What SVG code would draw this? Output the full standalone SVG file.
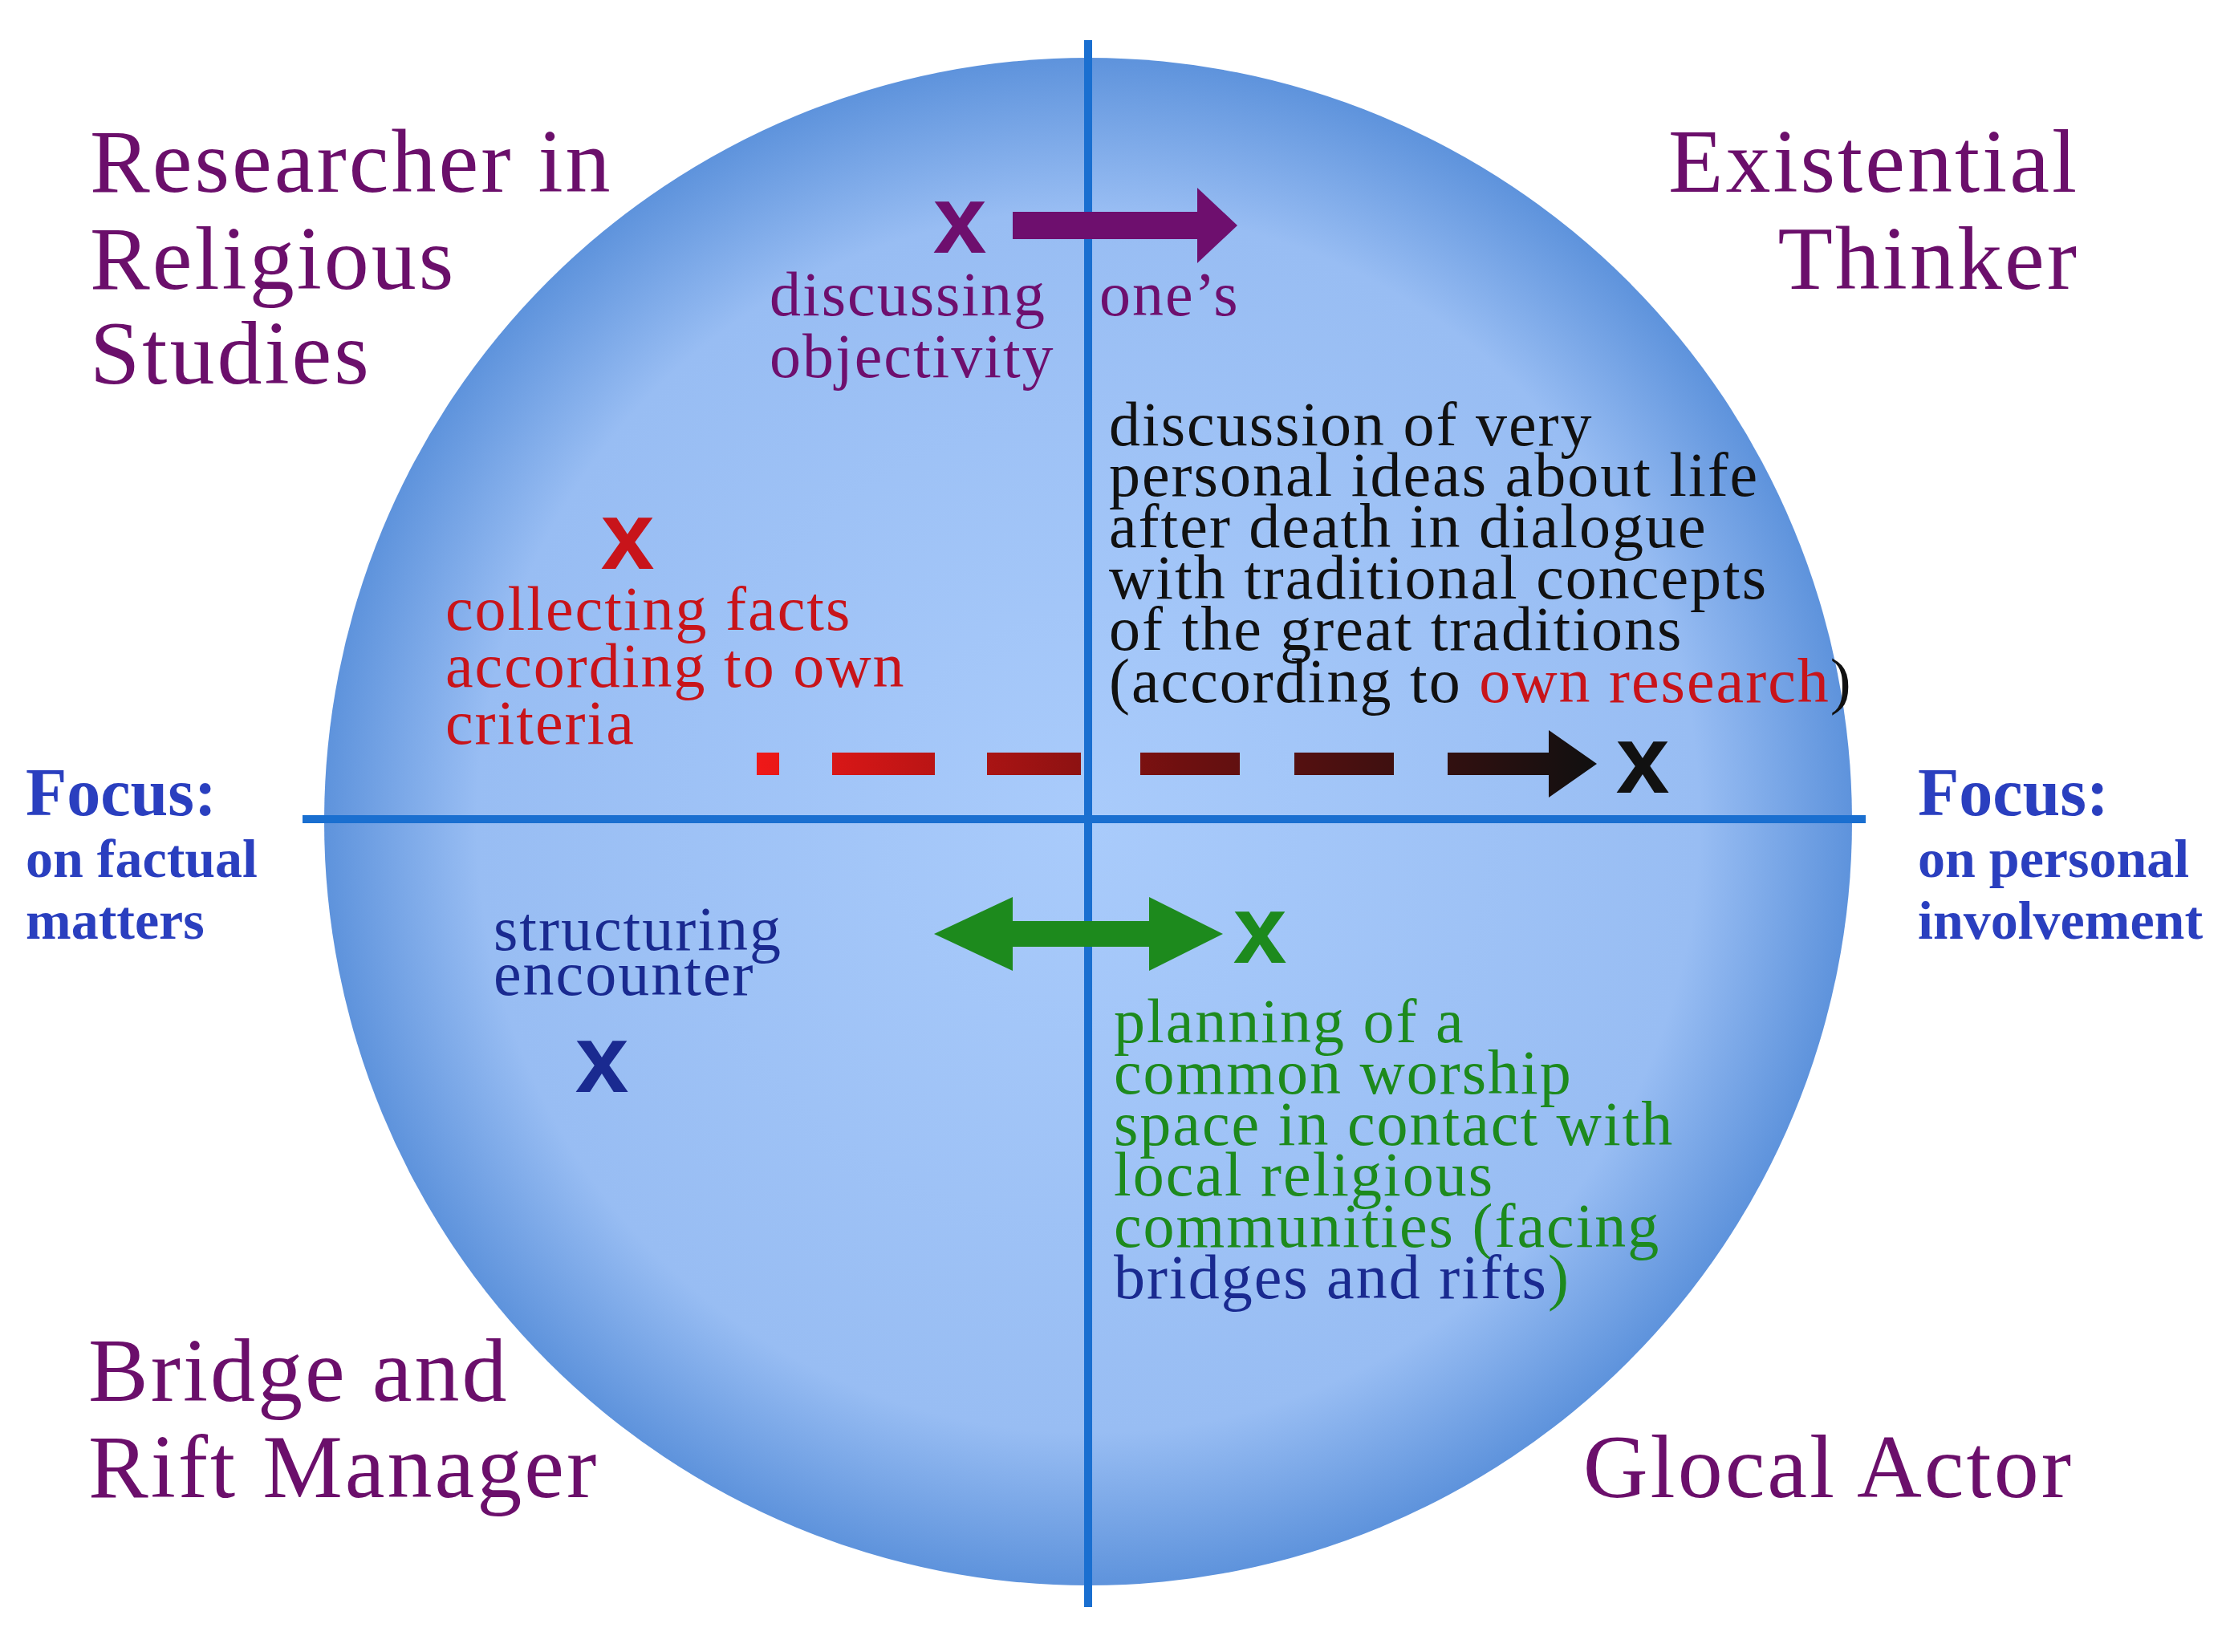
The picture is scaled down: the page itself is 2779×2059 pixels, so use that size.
<svg xmlns="http://www.w3.org/2000/svg" width="2779" height="2059" viewBox="0 0 2779 2059">
<style>
.t{font-family:"Liberation Serif",serif}
.role{font-size:112px;fill:#6b0f6b;letter-spacing:3px}
.foc{font-family:"Liberation Serif",serif;font-weight:bold;fill:#2a3fbf}
.x{font-family:"Liberation Sans",sans-serif;font-weight:bold;font-size:120px;text-anchor:middle}
.lbl{font-size:78px;letter-spacing:2px}
.ax{stroke:#1a6fd0;stroke-width:10}
</style>
<defs>
<radialGradient id="g" cx="0.5" cy="0.5" r="0.5">
<stop offset="0" stop-color="#a9cbfb"/><stop offset="0.8" stop-color="#98bdf3"/><stop offset="1" stop-color="#5e93dc"/>
</radialGradient>
<linearGradient id="dg" gradientUnits="userSpaceOnUse" x1="943" y1="0" x2="1990" y2="0">
<stop offset="0" stop-color="#f01818"/><stop offset="0.5" stop-color="#701010"/><stop offset="1" stop-color="#101010"/>
</linearGradient>
</defs>
<rect width="2779" height="2059" fill="#fff"/>
<circle cx="1356" cy="1024" r="952" fill="url(#g)"/>
<g id="connectors">
<line class="ax" x1="1356" y1="50" x2="1356" y2="2003"/>
<line class="ax" x1="377" y1="1021" x2="2325" y2="1021"/>
<g id="purple-arrow"><rect x="1262" y="264" width="240" height="34" fill="#6e0f6e"/><polygon points="1492,234 1542,281 1492,328" fill="#6e0f6e"/></g>
<g id="dashed-arrow" fill="url(#dg)">
<rect x="943" y="938" width="28" height="28"/><rect x="1037" y="938" width="128" height="28"/><rect x="1230" y="938" width="117" height="28"/><rect x="1421" y="938" width="124" height="28"/><rect x="1613" y="938" width="124" height="28"/><rect x="1804" y="938" width="140" height="28"/>
<polygon points="1930,910 1990,952 1930,994"/></g>
<g id="green-arrow" fill="#1d8a1d"><rect x="1220" y="1148" width="250" height="32"/><polygon points="1164,1164 1262,1118 1262,1210"/><polygon points="1524,1164 1432,1118 1432,1210"/></g>
</g>
<g id="roles" class="t role">
<text x="112" y="239">Researcher in</text><text x="112" y="360">Religious</text><text x="112" y="478">Studies</text>
<text x="2591" y="239" text-anchor="end">Existential</text><text x="2591" y="360" text-anchor="end">Thinker</text>
<text x="110" y="1746">Bridge and</text><text x="110" y="1866">Rift Manager</text>
<text x="2584" y="1866" text-anchor="end">Glocal Actor</text>
</g>
<g id="focus-left" class="foc"><text x="32" y="1016" font-size="84">Focus:</text><text x="32" y="1093" font-size="68">on factual</text><text x="32" y="1170" font-size="68">matters</text></g>
<g id="focus-right" class="foc"><text x="2390" y="1016" font-size="84">Focus:</text><text x="2390" y="1093" font-size="68">on personal</text><text x="2390" y="1170" font-size="68">involvement</text></g>
<g id="objectivity"><text class="x" x="1196" y="315" fill="#6e0f6e">x</text>
<g class="t lbl" fill="#6e0f6e"><text x="959" y="393">discussing</text><text x="1370" y="393">one’s</text><text x="959" y="470">objectivity</text></g></g>
<g id="existential" class="t lbl" fill="#111"><text x="1382" y="555">discussion of very</text><text x="1382" y="618">personal ideas about life</text><text x="1382" y="682">after death in dialogue</text><text x="1382" y="746">with traditional concepts</text><text x="1382" y="810">of the great traditions</text><text x="1382" y="875">(according to <tspan fill="#c8141a">own research</tspan>)</text></g>
<g id="facts"><text class="x" x="782" y="709" fill="#c8141a">x</text>
<g class="t lbl" fill="#c8141a"><text x="555" y="785">collecting facts</text><text x="555" y="856">according to own</text><text x="555" y="927">criteria</text></g></g>
<text class="x" x="2047" y="988" fill="#111">x</text>
<text class="x" x="1570" y="1200" fill="#1d8a1d">x</text>
<g id="structuring"><g class="t lbl" fill="#1a2a90"><text x="615" y="1184">structuring</text><text x="615" y="1240">encounter</text></g>
<text class="x" x="750" y="1361" fill="#1a2a90">x</text></g>
<g id="planning" class="t lbl" fill="#1d8a1d"><text x="1388" y="1299">planning of a</text><text x="1388" y="1363">common worship</text><text x="1388" y="1427">space in contact with</text><text x="1388" y="1490">local religious</text><text x="1388" y="1554">communities (facing</text><text x="1388" y="1618"><tspan fill="#1a2a90">bridges and rifts</tspan>)</text></g>
</svg>
